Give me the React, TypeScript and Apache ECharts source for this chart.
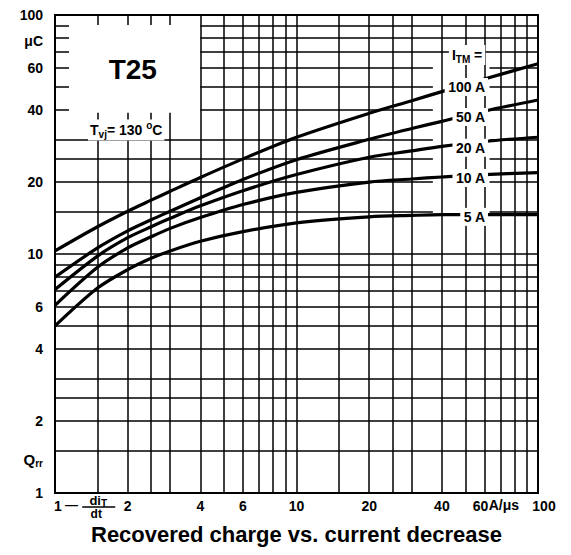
import React, { useEffect, useRef } from "react";
import * as echarts from "echarts";

// ---- data ----
const currentLabels = ["100 A", "50 A", "20 A", "10 A", "5 A"];
const xValues = [1, 1.5, 2, 2.5, 3, 4, 6, 10, 20, 30, 40, 60, 100];
const q100 = [10.3, 13.0, 15.1, 16.8, 18.3, 20.9, 25.0, 30.8, 38.8, 43.8, 47.8, 54.0, 62.5];
const q50 = [8.0, 10.6, 12.5, 13.9, 15.1, 17.2, 20.5, 24.8, 30.2, 33.5, 35.9, 39.6, 44.1];
const q20 = [7.1, 9.8, 11.7, 13.0, 14.1, 15.9, 18.4, 21.5, 25.4, 27.0, 28.2, 29.6, 30.8];
const q10 = [6.1, 8.8, 10.6, 11.8, 12.8, 14.2, 16.1, 18.1, 20.0, 20.6, 21.0, 21.5, 21.9];
const q5 = [5.0, 7.2, 8.6, 9.6, 10.3, 11.3, 12.4, 13.5, 14.3, 14.5, 14.6, 14.6, 14.6];
const labelY = [50.0, 37.4, 27.8, 20.8, 14.3];
const xTickLabels = [1, 2, 4, 6, 10, 20, 40, 60, 100];
const yTickLabels = [1, 2, 4, 6, 10, 20, 40, 60, 100];
const xGrid = [1.5, 2, 2.5, 3, 4, 5, 6, 7, 8, 9, 10, 15, 20, 25, 30, 40, 50, 60, 70, 80, 90];
const yGrid = [1.5, 2, 2.5, 3, 4, 5, 6, 7, 8, 9, 10, 15, 20, 25, 30, 40, 50, 60, 70, 80, 90];

// ---- layout constants (data space) ----
const BOX = { x0: 1, x1: 4, y0: 30, y1: 100, stubX: 1.143, stubTop: 90.8, stubLow: 39 };
const COL = { x0: 36.7, x1: 63, y0: 13, y1: 66 };
const MU_POS = 78;
const QRR_POS = 1.38;

const FONT = "'Liberation Sans', Arial, Helvetica, sans-serif";

function vSegs(x: number): number[][] {
  if (x > BOX.x0 && x < BOX.x1) return [[1, BOX.stubLow], [BOX.stubTop, 100]];
  return [[1, 100]];
}
function hSegs(y: number): number[][] {
  let segs = y > BOX.y0 && y < BOX.y1 ? [[1, BOX.stubX], [BOX.x1, 100]] : [[1, 100]];
  if (y > COL.y0 && y < COL.y1) {
    const out: number[][] = [];
    for (const [a, b] of segs) {
      if (a < COL.x0 && b > COL.x1) {
        out.push([a, COL.x0], [COL.x1, b]);
      } else out.push([a, b]);
    }
    segs = out;
  }
  return segs;
}

export default function App() {
  const ref = useRef<HTMLDivElement>(null);
  useEffect(() => {
    const el = ref.current!;
    const chart = echarts.init(el, null, { renderer: "svg" });
    const gridSegs: any[] = [];
    for (const x of xGrid) for (const [a, b] of vSegs(x)) gridSegs.push({ coords: [[x, a], [x, b]] });
    for (const y of yGrid) for (const [a, b] of hSegs(y)) gridSegs.push({ coords: [[a, y], [b, y]] });

    const curves = [q100, q50, q20, q10, q5].map((q, i) => ({
      type: "line",
      name: currentLabels[i],
      data: xValues.map((x, j) => [x, q[j]]),
      smooth: 0.3,
      symbol: "none",
      showSymbol: false,
      silent: true,
      z: 3,
      lineStyle: { color: "#000", width: 3.2 },
    }));

    const labelBase = { fontSize: 14, fontWeight: "bold", color: "#000", fontFamily: FONT };
    chart.setOption({
      animation: false,
      grid: { left: 55, right: 33, top: 15, bottom: 62, show: true, borderColor: "#000", borderWidth: 2, backgroundColor: "#fff" },
      xAxis: {
        type: "log",
        logBase: 10,
        min: 1,
        max: 100,
        splitLine: { show: false },
        axisLine: { show: false },
        axisTick: { show: false },
        axisLabel: {
          ...labelBase,
          margin: 6,
          customValues: xTickLabels,
          formatter: (v: number) => {
            if (Math.abs(v - 1) < 0.01) return "{l|1}";
            if (Math.abs(v - 60) < 0.1) return "{r|60}";
            if (Math.abs(v - 100) < 0.1) return "{h|100}";
            return String(Math.round(v));
          },
          rich: {
            l: { ...labelBase, padding: [0, 0, 0, 6] },
            r: { ...labelBase, padding: [0, 8, 0, 0] },
            h: { ...labelBase, padding: [0, 0, 0, 12] },
          },
        },
      },
      yAxis: {
        type: "log",
        logBase: 10,
        min: 1,
        max: 100,
        splitLine: { show: false },
        axisLine: { show: false },
        axisTick: { show: false },
        axisLabel: {
          ...labelBase,
          margin: 12,
          customValues: [...yTickLabels, MU_POS, QRR_POS],
          formatter: (v: number) => {
            if (Math.abs(v - MU_POS) < 0.01) return "μC";
            if (Math.abs(v - QRR_POS) < 0.001) return "{q|Q}{s|rr}";
            return String(Math.round(v));
          },
          rich: {
            q: { ...labelBase, fontSize: 15 },
            s: { ...labelBase, fontSize: 10, padding: [8, 0, 0, 0] },
          },
        },
      },
      series: [
        {
          type: "lines",
          coordinateSystem: "cartesian2d",
          data: gridSegs,
          silent: true,
          z: 1,
          lineStyle: { color: "#000", width: 1.5, opacity: 1 },
        },
        ...curves,
      ],
    });

    const px = (x: number, y: number) => chart.convertToPixel({ xAxisIndex: 0, yAxisIndex: 0 }, [x, y]) as number[];
    const txt = (x: number, y: number, style: any) => ({
      type: "text",
      x,
      y,
      z: 100,
      silent: true,
      style: { fill: "#000", fontFamily: FONT, fontWeight: "bold", fontSize: 14, ...style },
    });
    const sub = { fontFamily: FONT, fontWeight: "bold", fontSize: 10, fill: "#000", padding: [8, 0, 0, 0] };
    const main = { fontFamily: FONT, fontWeight: "bold", fontSize: 14, fill: "#000" };
    const sup = { fontFamily: FONT, fontWeight: "bold", fontSize: 10, fill: "#000", padding: [0, 0, 9, 0] };

    const g: any[] = [];
    const t25 = px(2.1, 58.9);
    g.push(txt(t25[0], t25[1], { text: "T25", fontSize: 28, align: "center", verticalAlign: "middle" }));
    const tvj = px(1.37, 33);
    g.push(
      txt(tvj[0], tvj[1], {
        text: "{m|T}{s|vj}{m|= 130 }{p|o}{m|C}",
        rich: { m: main, s: sub, p: sup },
        align: "left",
        verticalAlign: "middle",
        backgroundColor: "#fff",
        padding: [1, 2],
      })
    );
    const itm = px(60.5, 68);
    g.push(
      txt(itm[0], itm[1], {
        text: "{m|I}{s|TM}{m| =}",
        rich: { m: main, s: sub },
        align: "right",
        verticalAlign: "middle",
        backgroundColor: "#fff",
        padding: [1, 3],
      })
    );
    currentLabels.forEach((lab, i) => {
      const p = px(62.1, labelY[i]);
      g.push(txt(p[0], p[1], { text: lab, align: "right", verticalAlign: "middle", backgroundColor: "#fff", padding: [2, 3] }));
    });
    const axisY = px(1, 1)[1];
    const dash = px(1.17, 1);
    g.push(txt(dash[0], axisY + 11, { text: "—", align: "center", verticalAlign: "middle", fontSize: 13 }));
    const fr = px(1.51, 1);
    g.push(
      txt(fr[0], axisY + 7, {
        text: "{m|di}{s|T}",
        rich: { m: { ...main, fontSize: 13 }, s: { ...sub, fontSize: 10, padding: [7, 0, 0, 0] } },
        align: "center",
        verticalAlign: "middle",
      })
    );
    g.push({
      type: "line",
      z: 100,
      silent: true,
      shape: { x1: fr[0] - 16, y1: axisY + 14, x2: fr[0] + 17, y2: axisY + 14 },
      style: { stroke: "#000", lineWidth: 1.5 },
    });
    g.push(txt(fr[0] - 2, axisY + 21, { text: "dt", fontSize: 12, align: "center", verticalAlign: "middle" }));
    const aus = px(62.5, 1);
    g.push(txt(aus[0], axisY + 12, { text: "A/μs", align: "left", verticalAlign: "middle" }));
    g.push({
      type: "text",
      left: 91,
      top: 523,
      z: 100,
      silent: true,
      style: { text: "Recovered charge vs. current decrease", fill: "#000", fontFamily: FONT, fontWeight: "bold", fontSize: 22 },
    });
    chart.setOption({ graphic: g });

    return () => chart.dispose();
  }, []);
  return <div ref={ref} style={{ position: "fixed", left: 0, top: 0, width: 571, height: 555, background: "#fff" }} />;
}
